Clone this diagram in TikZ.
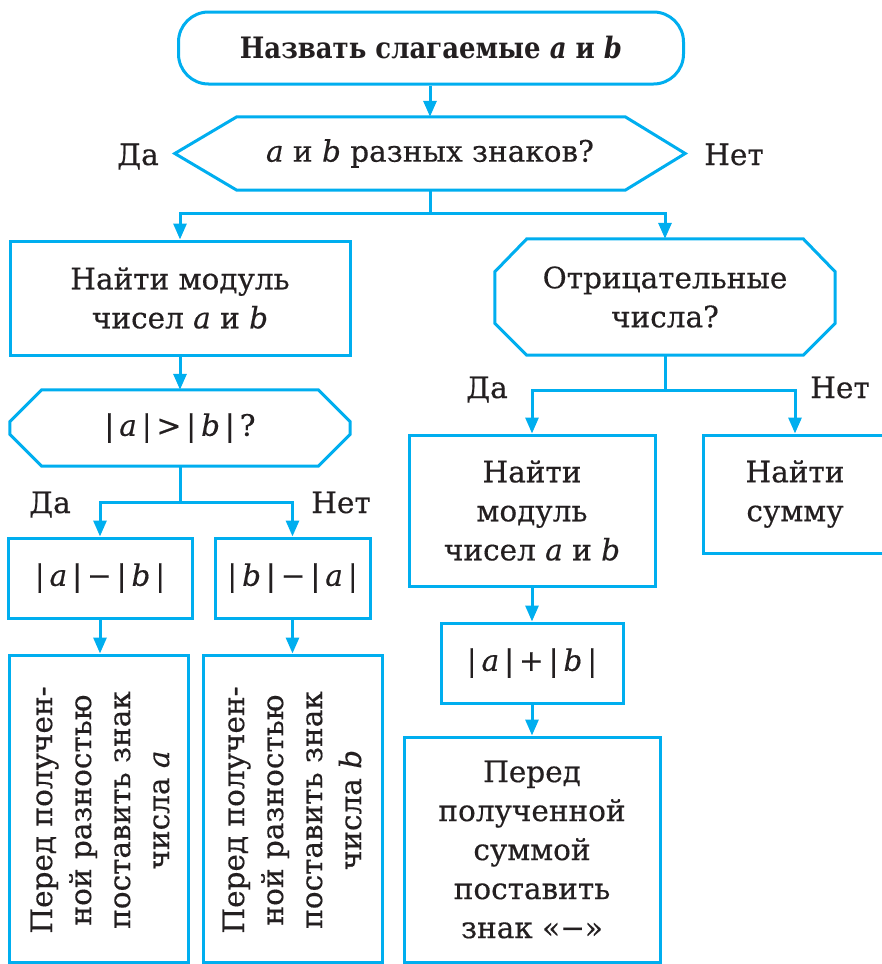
\documentclass[tikz,border=0pt]{standalone}
\usepackage{fontspec}
\setmainfont{DejaVu Serif}[UprightFeatures={FakeBold=0.4},ItalicFeatures={FakeBold=0.4},BoldFeatures={FakeStretch=0.88},BoldItalicFeatures={FakeStretch=0.88}]
\usetikzlibrary{arrows.meta,calc}
\definecolor{fc}{HTML}{00AEEF}
\definecolor{tc}{HTML}{231F20}
\tikzset{
  box/.style={draw=fc, line width=3pt, inner sep=0pt, align=center, text=tc},
  shp/.style={inner sep=0pt, align=center, text=tc},
  ln/.style={draw=fc, line width=3pt},
  arr/.style={ln, -{Triangle[length=16pt,width=13pt]}},
  lbl/.style={text=tc, anchor=base, inner sep=0pt},
}
\newcommand{\ia}{\textit{a}}
\newcommand{\ib}{\textit{b}}
\begin{document}
\begin{tikzpicture}[x=1pt,y=-1pt,font=\fontsize{29.5}{39}\selectfont]
\useasboundingbox (0,0) rectangle (881,964);
% title
\node[box, rounded corners=30pt, minimum width=505pt, minimum height=72pt] (n1) at (431,48)
  {\bfseries Назвать слагаемые \ia{} и \ib};
% hexagon decision
\node[shp, minimum width=510pt, minimum height=73pt] (q1) at (430,153.5) {\ia{} и \ib{} разных знаков?};
\draw[ln] (q1.west) -- ([xshift=62pt]q1.north west) -- ([xshift=-60pt]q1.north east) -- (q1.east)
  -- ([xshift=-60pt]q1.south east) -- ([xshift=62pt]q1.south west) -- cycle;
\node[lbl] (l1) at (138,165) {Да};
\node[lbl] (l2) at (734,165) {Нет};
% left branch
\node[box, minimum width=340pt, minimum height=114pt] (b1) at (180,298) {Найти модуль\\чисел \ia{} и \ib};
\node[shp, minimum width=340pt, minimum height=76pt] (q3) at (180,428) {|\,\ia\,|\,>\,|\,\ib\,|\,?};
\draw[ln] ([xshift=32pt]q3.north west) -- ([xshift=-32pt]q3.north east) -- ([yshift=-32pt]q3.north east)
  -- ([yshift=32pt]q3.south east) -- ([xshift=-32pt]q3.south east) -- ([xshift=32pt]q3.south west)
  -- ([yshift=32pt]q3.south west) -- ([yshift=-32pt]q3.north west) -- cycle;
\node[lbl] (l3) at (50,513) {Да};
\node[lbl] (l4) at (341,513) {Нет};
\node[box, minimum width=184pt, minimum height=80pt] (c1) at (100,578) {|\,\ia\,|\,−\,|\,\ib\,|};
\node[box, minimum width=155pt, minimum height=80pt] (c2) at (292.5,578) {|\,\ib\,|\,−\,|\,\ia\,|};
\node[box, minimum width=179pt, minimum height=307pt] (d1) at (98.5,808.5) {};
\node[box, minimum width=179pt, minimum height=307pt] (d2) at (292.5,808.5) {};
\node[shp, rotate=90] (d1t) at (100,810) {Перед получен-\\ной разностью\\поставить знак\\числа \ia};
\node[shp, rotate=90] (d2t) at (292,810) {Перед получен-\\ной разностью\\поставить знак\\числа \ib};
% right branch
\node[shp, minimum width=340pt, minimum height=116pt] (q2) at (665,297) {Отрицательные\\числа?};
\draw[ln] ([xshift=32pt]q2.north west) -- ([xshift=-32pt]q2.north east) -- ([yshift=-33pt]q2.north east)
  -- ([yshift=32pt]q2.south east) -- ([xshift=-32pt]q2.south east) -- ([xshift=32pt]q2.south west)
  -- ([yshift=32pt]q2.south west) -- ([yshift=-33pt]q2.north west) -- cycle;
\node[lbl] (l5) at (487,398) {Да};
\node[lbl] (l6) at (840,398) {Нет};
\node[box, minimum width=246pt, minimum height=151pt] (r1) at (532,510.5) {Найти\\модуль\\чисел \ia{} и \ib};
\node[box, minimum width=184pt, minimum height=118pt] (r2) at (795,494) {Найти\\сумму};
\node[box, minimum width=182pt, minimum height=80pt] (r3) at (532,663) {|\,\ia\,|\,+\,|\,\ib\,|};
\node[box, minimum width=256pt, minimum height=225pt] (r4) at (532,849.5) {Перед\\полученной\\суммой\\поставить\\знак «−»};
% connectors
\draw[arr] (q1.north |- n1.south) -- (q1.north);
\draw[ln] (q1.south) -- ++(0,23) coordinate (j1);
\draw[arr] (j1) -| (b1.north);
\draw[arr] (j1) -| (q2.north);
\draw[arr] (b1.south) -- (q3.north);
\draw[ln] (q3.south) -- ++(0,36) coordinate (j3);
\draw[arr] (j3) -| (c1.north);
\draw[arr] (j3) -| (c2.north);
\draw[arr] (c1.south) -- (c1.south |- d1.north);
\draw[arr] (c2.south) -- (c2.south |- d2.north);
\draw[ln] (q2.south) -- ++(0,35) coordinate (j2);
\draw[arr] (j2) -| (r1.north);
\draw[arr] (j2) -| (r2.north);
\draw[arr] (r1.south) -- (r3.north);
\draw[arr] (r3.south) -- (r4.north);
\end{tikzpicture}
\end{document}
